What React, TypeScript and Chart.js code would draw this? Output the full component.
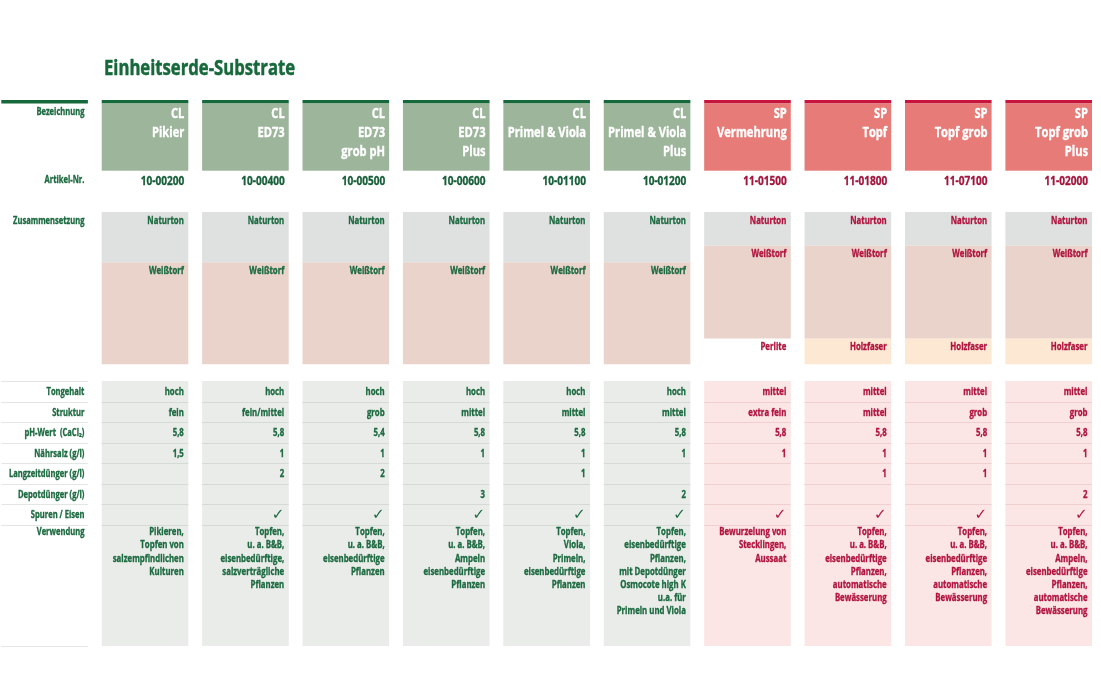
import { useEffect, useRef } from 'react';
import { Chart, registerables } from 'chart.js';

Chart.register(...registerables);

// ---------- data ----------
const title = 'Einheitserde-Substrate';
const series = ['CL', 'CL', 'CL', 'CL', 'CL', 'CL', 'SP', 'SP', 'SP', 'SP'];
const productNames = [
  ['Pikier'],
  ['ED73'],
  ['ED73', 'grob pH'],
  ['ED73', 'Plus'],
  ['Primel & Viola'],
  ['Primel & Viola', 'Plus'],
  ['Vermehrung'],
  ['Topf'],
  ['Topf grob'],
  ['Topf grob', 'Plus'],
];
const articleNumbers = ['10-00200', '10-00400', '10-00500', '10-00600', '10-01100', '10-01200', '11-01500', '11-01800', '11-07100', '11-02000'];

// Zusammensetzung (share of column height, %)
const naturton = [33, 33, 33, 33, 33, 33, 22, 22, 22, 22];
const weisstorf = [67, 67, 67, 67, 67, 67, 61, 61, 61, 61];
const zusatz = [0, 0, 0, 0, 0, 0, 17, 17, 17, 17];
const zusatzLabels = ['', '', '', '', '', '', 'Perlite', 'Holzfaser', 'Holzfaser', 'Holzfaser'];

const rowLabels = ['Tongehalt', 'Struktur', 'pH-Wert  (CaCl\u2082)', 'Nährsalz (g/l)', 'Langzeitdünger (g/l)', 'Depotdünger (g/l)', 'Spuren / Eisen'];
const tongehalt = ['hoch', 'hoch', 'hoch', 'hoch', 'hoch', 'hoch', 'mittel', 'mittel', 'mittel', 'mittel'];
const struktur = ['fein', 'fein/mittel', 'grob', 'mittel', 'mittel', 'mittel', 'extra fein', 'mittel', 'grob', 'grob'];
const phWert = ['5,8', '5,8', '5,4', '5,8', '5,8', '5,8', '5,8', '5,8', '5,8', '5,8'];
const naehrsalz = ['1,5', '1', '1', '1', '1', '1', '1', '1', '1', '1'];
const langzeitduenger = ['', '2', '2', '', '1', '', '', '1', '1', ''];
const depotduenger = ['', '', '', '3', '', '2', '', '', '', '2'];
const spurenEisen = [false, true, true, true, true, true, true, true, true, true];
const verwendungLabel = 'Verwendung';
const verwendung = [
  ['Pikieren,', 'Topfen von', 'salzempfindlichen', 'Kulturen'],
  ['Topfen,', 'u. a. B&B,', 'eisenbedürftige,', 'salzverträgliche', 'Pflanzen'],
  ['Topfen,', 'u. a. B&B,', 'eisenbedürftige', 'Pflanzen'],
  ['Topfen,', 'u. a. B&B,', 'Ampeln', 'eisenbedürftige', 'Pflanzen'],
  ['Topfen,', 'Viola,', 'Primeln,', 'eisenbedürftige', 'Pflanzen'],
  ['Topfen,', 'eisenbedürftige', 'Pflanzen,', 'mit Depotdünger', 'Osmocote high K', 'u.a. für', 'Primeln und Viola'],
  ['Bewurzelung von', 'Stecklingen,', 'Aussaat'],
  ['Topfen,', 'u. a. B&B,', 'eisenbedürftige', 'Pflanzen,', 'automatische', 'Bewässerung'],
  ['Topfen,', 'u. a. B&B,', 'eisenbedürftige', 'Pflanzen,', 'automatische', 'Bewässerung'],
  ['Topfen,', 'u. a. B&B,', 'Ampeln,', 'eisenbedürftige', 'Pflanzen,', 'automatische', 'Bewässerung'],
];

// ---------- styles / layout ----------
const W = 1101;
const H = 697;
const FONT = '"Open Sans","Noto Sans",sans-serif';
const SQUEEZE = 0.78;
const COMP_TOP = 212;
const COMP_BOTTOM = 364.5;
const BAR_PCT = 0.8625;
const X_MIN = -0.4442;
const X_MAX = 10.5209;

const isCL = (i: number) => series[i] === 'CL';
const textColor = (i: number) => (isCL(i) ? '#1d6a41' : '#b0153f');
const artColor = (i: number) => (isCL(i) ? '#175f39' : '#a3163d');
const LABEL_GREEN = '#1d6a41';

const tableRows = [tongehalt, struktur, phWert, naehrsalz, langzeitduenger, depotduenger];

function txt(ctx: CanvasRenderingContext2D, s: string, x: number, y: number, size: number, align: CanvasTextAlign = 'right', base: CanvasTextBaseline = 'middle', stroke = 0.35) {
  ctx.save();
  ctx.font = `bold ${size}px ${FONT}`;
  ctx.textAlign = align;
  ctx.textBaseline = base;
  ctx.translate(x, y);
  ctx.scale(SQUEEZE, 1);
  ctx.fillText(s, 0, 0);
  if (stroke > 0) {
    ctx.strokeStyle = ctx.fillStyle;
    ctx.lineWidth = stroke;
    ctx.lineJoin = 'round';
    ctx.strokeText(s, 0, 0);
  }
  ctx.restore();
}

const tablePlugin = {
  id: 'tableLayout',
  beforeDatasetsDraw(chart: any) {
    const ctx: CanvasRenderingContext2D = chart.ctx;
    const xs = chart.scales.x;
    const step = xs.getPixelForValue(1) - xs.getPixelForValue(0);
    const cw = step * BAR_PCT;
    const left = (v: number) => xs.getPixelForValue(v) - cw / 2;
    const right = (v: number) => xs.getPixelForValue(v) + cw / 2;

    ctx.save();
    // title
    ctx.fillStyle = '#17693b';
    txt(ctx, title, 104, 75, 21.4, 'left', 'alphabetic', 0.5);

    // left label column
    const lx = right(0) - 3.5;
    ctx.fillStyle = '#17693b';
    ctx.fillRect(left(0), 100, cw, 3.5);
    ctx.fillStyle = LABEL_GREEN;
    txt(ctx, 'Bezeichnung', lx, 112, 9.7);
    txt(ctx, 'Artikel-Nr.', lx, 180.5, 9.7);
    txt(ctx, 'Zusammensetzung', lx, 221, 9.7);

    const tTop = 381;
    const rowH = 20.5;
    const vBottom = 646;
    ctx.strokeStyle = '#e4e6e4';
    ctx.lineWidth = 1;
    for (let r = 0; r <= 7; r++) {
      const y = Math.round(tTop + r * rowH) + 0.5;
      ctx.beginPath();
      ctx.moveTo(left(0), y);
      ctx.lineTo(right(0), y);
      ctx.stroke();
    }
    ctx.beginPath();
    ctx.moveTo(left(0), vBottom + 0.5);
    ctx.lineTo(right(0), vBottom + 0.5);
    ctx.stroke();
    ctx.fillStyle = LABEL_GREEN;
    rowLabels.forEach((l, r) => txt(ctx, l, lx, tTop + r * rowH + rowH / 2 + 1, 9.7));
    txt(ctx, verwendungLabel, lx, 532.5, 9.7);

    // product columns
    for (let i = 0; i < series.length; i++) {
      const v = i + 1;
      const x0 = left(v);
      const x1 = right(v);
      const tx = x1 - 4;
      const cl = isCL(i);
      // header
      ctx.fillStyle = cl ? '#17693b' : '#c8153e';
      ctx.fillRect(x0, 100, cw, 3.5);
      ctx.fillStyle = cl ? '#9cb59b' : '#e67b77';
      ctx.fillRect(x0, 103.5, cw, 67.2);
      ctx.fillStyle = '#ffffff';
      [series[i], ...productNames[i]].forEach((t, k) => txt(ctx, t, tx, 114 + k * 19, 14.3));
      // article number
      ctx.fillStyle = artColor(i);
      txt(ctx, articleNumbers[i], tx, 181, 12.9);

      // table cells
      ctx.fillStyle = cl ? '#e9ece9' : '#fce6e5';
      ctx.fillRect(x0, tTop, cw, vBottom - tTop);
      ctx.strokeStyle = cl ? '#d6dad6' : '#f0d0cf';
      ctx.lineWidth = 1;
      for (let r = 1; r <= 7; r++) {
        const y = Math.round(tTop + r * rowH) + 0.5;
        ctx.beginPath();
        ctx.moveTo(x0, y);
        ctx.lineTo(x1, y);
        ctx.stroke();
      }
      ctx.fillStyle = textColor(i);
      tableRows.forEach((row, r) => {
        if (row[i]) txt(ctx, row[i], tx - 0.5, tTop + r * rowH + rowH / 2 + 1, 10);
      });
      if (spurenEisen[i]) {
        ctx.save();
        ctx.font = `15px "DejaVu Sans",sans-serif`;
        ctx.textAlign = 'right';
        ctx.textBaseline = 'middle';
        ctx.fillText('\u2713', tx - 0.5, tTop + 6 * rowH + rowH / 2 + 1);
        ctx.restore();
      }
      verwendung[i].forEach((t, k) => txt(ctx, t, tx - 0.5, 532.5 + k * 13.1, 10));
    }
    ctx.restore();
  },
  afterDatasetsDraw(chart: any) {
    const ctx: CanvasRenderingContext2D = chart.ctx;
    const labelSets = [naturton.map(() => 'Naturton'), weisstorf.map(() => 'Weißtorf'), zusatzLabels];
    ctx.save();
    labelSets.forEach((labels, di) => {
      const meta = chart.getDatasetMeta(di);
      meta.data.forEach((el: any, i: number) => {
        const lbl = labels[i];
        if (!lbl) return;
        const p = el.getProps(['x', 'y', 'base', 'width'], true);
        const top = Math.min(p.y, p.base);
        ctx.fillStyle = textColor(i);
        txt(ctx, lbl, p.x + p.width / 2 - 4.5, top + 8.8, 10);
      });
    });
    ctx.restore();
  },
};

export default function App() {
  const ref = useRef<HTMLCanvasElement>(null);
  useEffect(() => {
    const pts = (arr: number[]) => arr.map((y, i) => ({ x: i + 1, y }));
    const chart = new Chart(ref.current as HTMLCanvasElement, {
      type: 'bar',
      data: {
        datasets: [
          { label: 'Naturton', data: pts(naturton) as any, backgroundColor: '#dfe0e0' },
          { label: 'Weißtorf', data: pts(weisstorf) as any, backgroundColor: '#e9d3ca' },
          {
            label: 'Zusatz',
            data: pts(zusatz) as any,
            backgroundColor: zusatzLabels.map((l) => (l === 'Perlite' ? '#ffffff' : '#fde8d4')),
          },
        ],
      },
      options: {
        animation: false,
        responsive: false,
        devicePixelRatio: 1,
        layout: { padding: { top: COMP_TOP, bottom: H - COMP_BOTTOM, left: 0, right: 0 } },
        plugins: { legend: { display: false }, tooltip: { enabled: false } },
        datasets: { bar: { barPercentage: BAR_PCT, categoryPercentage: 1, borderWidth: 0 } },
        scales: {
          x: {
            type: 'linear',
            min: X_MIN,
            max: X_MAX,
            offset: false,
            stacked: true,
            display: false,
            ticks: { stepSize: 1, includeBounds: false },
            grid: { display: false, offset: false },
          },
          y: { type: 'linear', min: 0, max: 100, reverse: true, stacked: true, display: false },
        },
      } as any,
      plugins: [tablePlugin],
    });
    return () => chart.destroy();
  }, []);
  return (
    <div style={{ position: 'absolute', left: 0, top: 0, width: W, height: H, background: '#fff', overflow: 'hidden' }}>
      <canvas ref={ref} width={W} height={H} style={{ display: 'block', width: W, height: H }} />
    </div>
  );
}
